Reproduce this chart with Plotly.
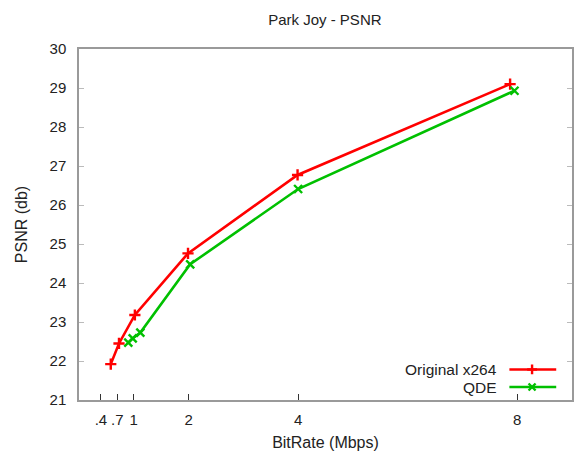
import plotly.graph_objects as go

# Rate-distortion data for the "Park Joy" sequence
x264_rate = [0.58, 0.73, 1.02, 1.99, 3.99, 7.87]
x264_psnr = [21.92, 22.45, 23.18, 24.76, 26.77, 29.10]
qde_rate = [0.90, 0.98, 1.12, 2.03, 4.00, 7.95]
qde_psnr = [22.47, 22.58, 22.73, 24.48, 26.41, 28.93]

x_tick_vals = [0.4, 0.7, 1, 2, 4, 8]
x_tick_text = [".4", ".7", "1", "2", "4", "8"]
y_tick_vals = list(range(21, 31))

series_names = ["Original x264", "QDE"]
series_colors = ["#ff0000", "#00c000"]
series_symbols = ["cross-thin", "x-thin"]

FONT = "Liberation Sans, Arial, sans-serif"
TEXT = "#222222"
FRAME = "#9a9a9a"

fig = go.Figure()
for name, xs, ys, col, sym in zip(series_names, [x264_rate, qde_rate], [x264_psnr, qde_psnr],
                                  series_colors, series_symbols):
    fig.add_trace(go.Scatter(
        x=xs, y=ys, mode="lines+markers", name=name, showlegend=False,
        line=dict(color=col, width=2.6),
        marker=dict(symbol=sym, size=8, line=dict(color=col, width=2.4)),
    ))

# gnuplot-style key: label on the left, sample line with marker on the right
key_y = [0.087, 0.037]
for name, col, sym, ky in zip(series_names, series_colors, series_symbols, key_y):
    fig.add_trace(go.Scatter(
        x=[0.873, 0.968], y=[ky, ky], xaxis="x2", yaxis="y2", mode="lines",
        line=dict(color=col, width=2.6), showlegend=False, hoverinfo="skip"))
    fig.add_trace(go.Scatter(
        x=[0.919], y=[ky], xaxis="x2", yaxis="y2", mode="markers",
        marker=dict(symbol=sym, size=7, line=dict(color=col, width=2.4)),
        showlegend=False, hoverinfo="skip"))
    fig.add_annotation(x=0.851, y=ky, xref="x2", yref="y2", text=name, showarrow=False,
                       xanchor="right", yanchor="middle",
                       font=dict(family=FONT, size=15.5, color=TEXT))

fig.update_layout(
    width=575, height=454,
    margin=dict(l=79, r=1, t=49, b=54),
    paper_bgcolor="white", plot_bgcolor="white",
    font=dict(family=FONT, size=15, color=TEXT),
    title=dict(text="Park Joy - PSNR", x=0.565, xanchor="center", y=0.956, yanchor="middle",
               font=dict(family=FONT, size=15, color=TEXT)),
    xaxis=dict(
        range=[0, 9], tickvals=x_tick_vals, ticktext=x_tick_text,
        showgrid=False, zeroline=False, showline=True, linecolor=FRAME, linewidth=1.5,
        mirror=True, ticks="inside", ticklen=6, tickcolor="#333333", tickwidth=1,
        ticklabelstandoff=5,
        title=dict(text="BitRate (Mbps)", standoff=10, font=dict(family=FONT, size=16, color=TEXT)),
    ),
    yaxis=dict(
        range=[21, 30], tickvals=y_tick_vals,
        showgrid=False, zeroline=False, showline=True, linecolor=FRAME, linewidth=1.5,
        mirror="ticks", ticks="inside", ticklen=5, tickcolor="#bbbbbb", tickwidth=1,
        ticklabelstandoff=8,
        title=dict(text="PSNR (db)", standoff=18, font=dict(family=FONT, size=16, color=TEXT)),
    ),
    xaxis2=dict(domain=[0, 1], range=[0, 1], overlaying="x", visible=False, fixedrange=True),
    yaxis2=dict(domain=[0, 1], range=[0, 1], overlaying="y", visible=False, fixedrange=True),
)

fig.write_html("out.html")
